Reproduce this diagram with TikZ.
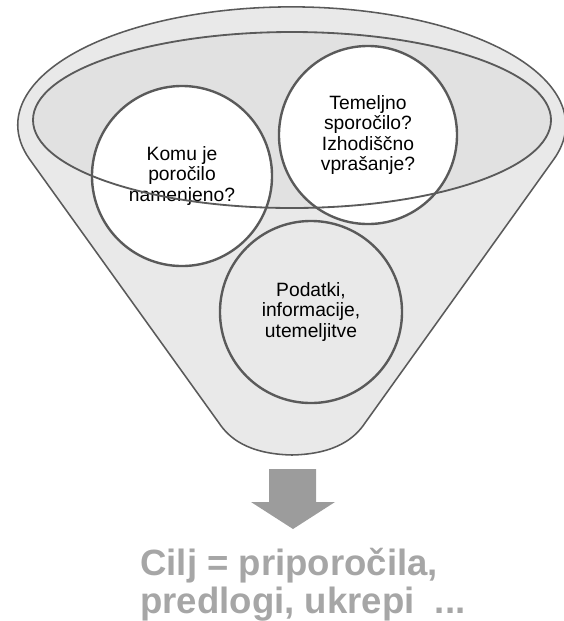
\documentclass[tikz,border=0pt]{standalone}
\usepackage{fontspec}
\setmainfont{Liberation Sans}
\definecolor{funnelgray}{HTML}{E9E9E9}
\definecolor{rimfill}{HTML}{E1E1E1}
\definecolor{rimgray}{HTML}{5A5A5A}
\definecolor{arrowgray}{HTML}{9C9C9C}
\definecolor{goalgray}{HTML}{A6A6A6}
\begin{document}
\begin{tikzpicture}[x=0.025cm, y=-0.025cm,
    bubble/.style={circle, draw=rimgray, line width=1.7pt, align=center, inner sep=0pt,
        font=\fontsize{13.7}{14.6}\selectfont},
    question/.style={bubble, fill=white}]

    \useasboundingbox (0,0) rectangle (564,621);

    % Funnel body
    \draw[rimgray, line width=1.1pt, fill=funnelgray]
        (554,159) arc[start angle=16.8, end angle=-196.8, x radius=274, y radius=118]
        -- (219,423) .. controls (229,438) and (248,454) .. (292,455)
        .. controls (336,454) and (355,438) .. (365,423) -- cycle;
    \fill[rimfill] (292,120) ellipse[x radius=259, y radius=88];

    % Question bubbles
    \node[question, minimum size=4.5cm] (komu) at (182,176) {Komu je\\poročilo\\namenjeno?};
    \node[question, minimum size=4.45cm] (temelj) at (368,135) {Temeljno\\sporočilo?\\Izhodiščno\\vprašanje?};
    \node[bubble, minimum size=4.55cm] (podatki) at (311,312) {Podatki,\\informacije,\\utemeljitve};

    % Inner rim of the funnel
    \draw[rimgray, line width=1.3pt] (292,120) ellipse[x radius=259, y radius=88];

    % Arrow to the goal
    \fill[arrowgray] (269,469) -- (316,469) -- (316,502) -- (335,502) -- (293,529)
        -- (251,502) -- (269,502) -- cycle;

    % Goal
    \node[anchor=north west, inner sep=0pt, align=left, text=goalgray,
        font=\bfseries\fontsize{26}{27}\selectfont] (cilj) at (140,548)
        {Cilj = priporočila,\\predlogi, ukrepi\ \ ...};

\end{tikzpicture}
\end{document}
